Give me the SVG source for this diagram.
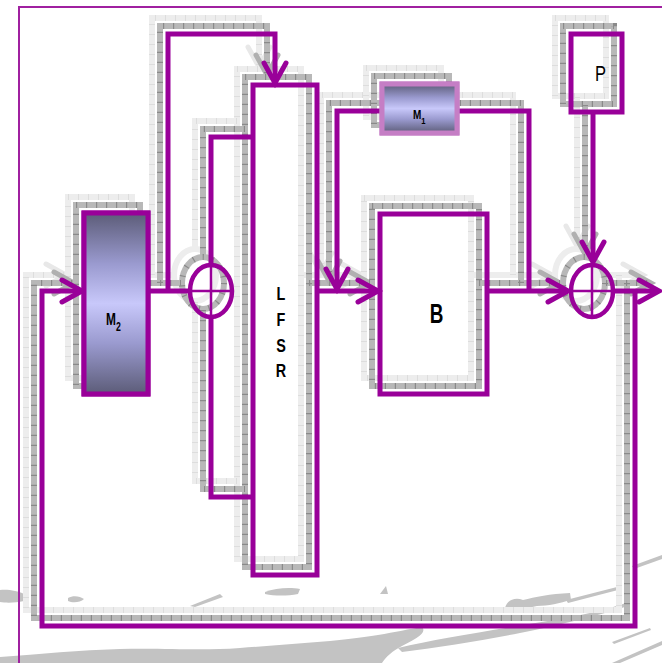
<svg xmlns="http://www.w3.org/2000/svg" xmlns:xlink="http://www.w3.org/1999/xlink" width="662" height="663" viewBox="0 0 662 663">
  <defs>
    <style>
      .wire { fill: none; stroke: #990099; stroke-width: 5; stroke-linejoin: miter; --head: url(#head); }
      .arrow { marker-end: var(--head); }
      .node { fill: none; stroke: #990099; stroke-width: 5; }
      .node-soft { fill: none; stroke: #c57ec5; stroke-width: 5; }
      .filled { fill: url(#slate); }
      .xor { fill: none; stroke: #990099; stroke-width: 4.5; }
      .cross { stroke: #990099; stroke-width: 2.5; }
      .lbl { fill: #000; stroke: none; font-family: "Liberation Sans", Arial, sans-serif; font-weight: bold; }
      .lbl-reg { fill: #000; stroke: none; font-family: "Liberation Sans", Arial, sans-serif; }
      .sh-far { fill: none; stroke: #ededed; stroke-width: 6; stroke-linejoin: miter; --head: url(#head-far); }
      .sh-far-tick { fill: none; stroke: #dddddd; stroke-width: 6; stroke-dasharray: 1 9; --head: none; }
      .sh-near { fill: none; stroke: #b8b8b8; stroke-width: 6; stroke-linejoin: miter; --head: url(#head-near); }
      .sh-near-tick { fill: none; stroke: #8a8a8a; stroke-width: 6; stroke-dasharray: 1.2 8.8; --head: none; }
      .smudge { fill: #c3c3c3; stroke: none; }
      .frame { fill: none; stroke: #a020a0; stroke-width: 2; }
    </style>
    <linearGradient id="slate" x1="0" y1="0" x2="0" y2="1">
      <stop offset="0" stop-color="#5c5c78"/>
      <stop offset="0.28" stop-color="#9a9acf"/>
      <stop offset="0.5" stop-color="#c8c8fa"/>
      <stop offset="0.72" stop-color="#9a9acf"/>
      <stop offset="1" stop-color="#5c5c78"/>
    </linearGradient>
    <marker id="head" markerUnits="userSpaceOnUse" markerWidth="30" markerHeight="30" orient="auto" overflow="visible">
      <path d="M-20,-11 L0,0 L-20,11" fill="none" stroke="#990099" stroke-width="5" stroke-linecap="round" stroke-linejoin="miter"/>
    </marker>
    <marker id="head-near" markerUnits="userSpaceOnUse" markerWidth="30" markerHeight="30" orient="auto" overflow="visible">
      <path d="M-20,-11 L0,0 L-20,11" fill="none" stroke="#b0b0b0" stroke-width="5" stroke-linecap="round"/>
    </marker>
    <marker id="head-far" markerUnits="userSpaceOnUse" markerWidth="30" markerHeight="30" orient="auto" overflow="visible">
      <path d="M-20,-11 L0,0 L-20,11" fill="none" stroke="#e8e8e8" stroke-width="5" stroke-linecap="round"/>
    </marker>
  </defs>

  <rect width="662" height="663" fill="#ffffff"/>

  <!-- brush-stroke backdrop along the bottom -->
  <g id="backdrop" class="smudge">
    <path d="M0,657 C40,654 80,650 120,649 C170,648 200,651 240,648 C270,646 300,643 330,641 C350,639 365,637 378,635 C395,632 410,629 422,627 C428,633 414,640 402,646 C392,651 386,657 382,663 L0,663 Z"/>
    <path d="M398,648 C440,638 500,629 560,619 C590,614 610,608 626,603 L628,606 C600,615 560,625 520,633 C480,641 440,647 402,652 Z"/>
    <path d="M505,608 C507,600 515,597 523,600 C535,597 550,594 570,593 L571,600 C560,603 548,606 537,606 C525,609 512,610 505,608 Z"/>
    <path d="M566,600 L617,587 L618,590 L568,603 Z"/>
    <path d="M632,566 L662,555 L662,559 L634,569 Z"/>
    <path d="M0,590 C8,589 18,591 24,594 L24,601 C15,603 6,603 0,602 Z"/>
    <path d="M68,598 C73,595 80,596 84,599 C80,603 72,603 68,601 Z"/>
    <path d="M190,606 L220,594 L223,597 L195,607 Z"/>
    <path d="M265,592 C275,588 290,587 300,589 L298,594 C287,596 275,596 265,594 Z"/>
    <path d="M380,594 L386,586 L388,594 Z"/>
    <path d="M612,663 L662,641 L662,645 L620,663 Z"/>
    <path d="M612,642 L650,628 L651,630 L614,644 Z"/>
  </g>

  <!-- outer frame -->
  <path class="frame" d="M19,663 V7 H662"/>

  <!-- drop shadows: far layer -->
  <g id="shadow-far" transform="translate(-16,-16)">
    <g class="sh-far">
      <use href="#c-feedback"/><use href="#c-out"/><use href="#c-m2-xor"/><use href="#c-m2-lfsr"/>
      <use href="#c-tap-a"/><use href="#c-tap-b"/><use href="#c-lfsr-b"/><use href="#c-b-xor"/>
      <use href="#c-m1-loop"/><use href="#c-p-xor"/>
      <use href="#m2-box"/><use href="#lfsr-box"/><use href="#b-box"/><use href="#m1-box"/><use href="#p-box"/>
      <use href="#xor1-ring"/><use href="#xor2-ring"/>
    </g>
    <g class="sh-far-tick">
      <use href="#c-feedback"/><use href="#c-m2-lfsr"/><use href="#c-tap-a"/><use href="#c-tap-b"/><use href="#c-m1-loop"/><use href="#c-p-xor"/>
      <use href="#m2-box"/><use href="#lfsr-box"/><use href="#b-box"/><use href="#m1-box"/><use href="#p-box"/>
    </g>
  </g>

  <!-- drop shadows: near layer -->
  <g id="shadow-near" transform="translate(-8,-8)">
    <g class="sh-near">
      <use href="#c-feedback"/><use href="#c-out"/><use href="#c-m2-xor"/><use href="#c-m2-lfsr"/>
      <use href="#c-tap-a"/><use href="#c-tap-b"/><use href="#c-lfsr-b"/><use href="#c-b-xor"/>
      <use href="#c-m1-loop"/><use href="#c-p-xor"/>
      <use href="#m2-box"/><use href="#lfsr-box"/><use href="#b-box"/><use href="#m1-box"/><use href="#p-box"/>
      <use href="#xor1-ring"/><use href="#xor2-ring"/>
    </g>
    <g class="sh-near-tick">
      <use href="#c-feedback"/><use href="#c-out"/><use href="#c-m2-xor"/><use href="#c-m2-lfsr"/>
      <use href="#c-tap-a"/><use href="#c-tap-b"/><use href="#c-lfsr-b"/><use href="#c-b-xor"/>
      <use href="#c-m1-loop"/><use href="#c-p-xor"/>
      <use href="#m2-box"/><use href="#lfsr-box"/><use href="#b-box"/><use href="#m1-box"/><use href="#p-box"/>
      <use href="#xor1-ring"/><use href="#xor2-ring"/>
    </g>
  </g>

  <!-- connectors -->
  <g id="connectors" class="wire">
    <path id="c-feedback" class="arrow" d="M635,291 V626 H42 V291 H82"/>
    <path id="c-out" class="arrow" d="M614,291 H659"/>
    <path id="c-m2-xor" d="M148,291 H189"/>
    <path id="c-m2-lfsr" class="arrow" d="M168,291 V34 H275 V83"/>
    <path id="c-tap-a" d="M253,137 H211 V264"/>
    <path id="c-tap-b" d="M211,318 V497 H253"/>
    <path id="c-lfsr-b" class="arrow" d="M317,291 H378"/>
    <path id="c-b-xor" class="arrow" d="M487,291 H568"/>
    <path id="c-m1-loop" class="arrow" d="M529,291 V111 H337 V289"/>
    <path id="c-p-xor" class="arrow" d="M593,113 V262"/>
  </g>

  <!-- nodes -->
  <g id="node-m2" class="node">
    <rect id="m2-box" x="84" y="213" width="64" height="181"/>
    <rect class="filled" x="84" y="213" width="64" height="181"/>
    <text class="lbl" transform="translate(106,325) scale(0.7,1)" font-size="17">M<tspan font-size="12.5" dy="6">2</tspan></text>
  </g>

  <g id="node-lfsr" class="node">
    <rect id="lfsr-box" x="253" y="85" width="64" height="490"/>
    <text class="lbl" text-anchor="middle" font-size="18" transform="translate(281,300) scale(0.8,1)">L</text>
    <text class="lbl" text-anchor="middle" font-size="18" transform="translate(281,326) scale(0.8,1)">F</text>
    <text class="lbl" text-anchor="middle" font-size="18" transform="translate(281,352) scale(0.8,1)">S</text>
    <text class="lbl" text-anchor="middle" font-size="18" transform="translate(281,377) scale(0.8,1)">R</text>
  </g>

  <g id="node-b" class="node">
    <rect id="b-box" x="380" y="214" width="107" height="180"/>
    <text class="lbl" text-anchor="middle" font-size="27" transform="translate(436.5,323) scale(0.7,1)">B</text>
  </g>

  <g id="node-m1" class="node-soft">
    <rect id="m1-box" x="382" y="84" width="75" height="49"/>
    <rect class="filled" x="382" y="84" width="75" height="49"/>
    <text class="lbl" transform="translate(413,119) scale(0.8,1)" font-size="12.5">M<tspan font-size="9.5" dy="5">1</tspan></text>
  </g>

  <g id="node-p" class="node">
    <rect id="p-box" x="571" y="34" width="51" height="78"/>
    <text class="lbl-reg" text-anchor="middle" font-size="22" transform="translate(600.5,81) scale(0.75,1)">P</text>
  </g>

  <g id="node-xor1" class="xor">
    <ellipse id="xor1-ring" cx="211" cy="291" rx="21" ry="26"/>
    <path class="cross" d="M190,291 H232 M211,265 V317"/>
  </g>

  <g id="node-xor2" class="xor">
    <ellipse id="xor2-ring" cx="592" cy="291" rx="21" ry="26"/>
    <path class="cross" d="M571,291 H613 M592,265 V317"/>
  </g>
</svg>
